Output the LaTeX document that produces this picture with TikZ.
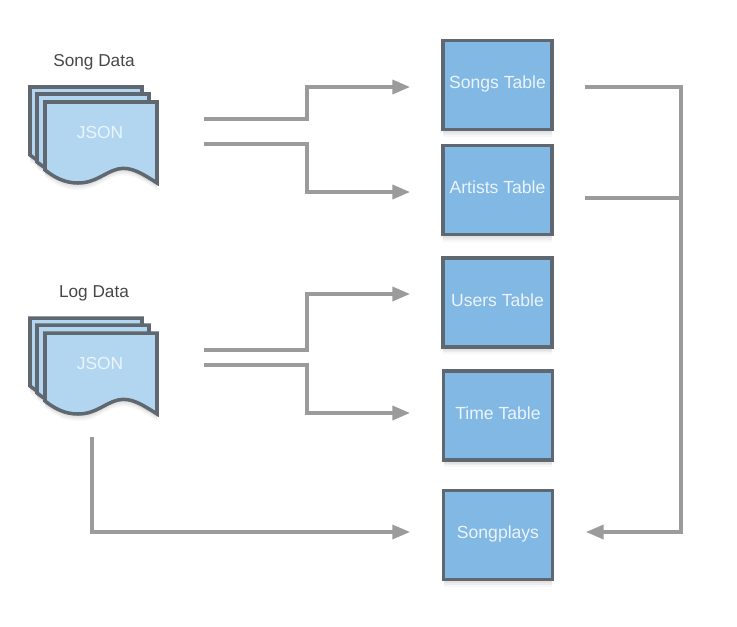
\documentclass[tikz,border=0pt]{standalone}
\usepackage{fontspec}
\setmainfont{Liberation Sans}
\usetikzlibrary{arrows.meta,shadows}
\definecolor{tablefill}{HTML}{82B8E4}
\definecolor{sheetfill}{HTML}{B3D6F0}
\definecolor{edgegray}{HTML}{5F6770}
\definecolor{flowgray}{HTML}{9B9B9B}
\definecolor{inktext}{HTML}{EAF4FC}
\tikzset{
    softshadow/.style={
        drop shadow={shadow xshift=0pt, shadow yshift=-1pt, opacity=.05, fill=black},
        drop shadow={shadow xshift=0pt, shadow yshift=-2pt, opacity=.05, fill=black},
        drop shadow={shadow xshift=0pt, shadow yshift=-3pt, opacity=.04, fill=black},
        drop shadow={shadow xshift=0pt, shadow yshift=-4pt, opacity=.03, fill=black}},
    tablebox/.style={rectangle, draw=edgegray, fill=tablefill, line width=1.9pt, minimum width=2.18cm, minimum height=1.78cm, inner sep=0pt, text=inktext, font=\fontsize{10}{11}\selectfont, softshadow},
    sheet/.style={draw=edgegray, fill=sheetfill, line width=2pt, line join=miter},
    stacklabel/.style={inner sep=0pt, text=inktext, font=\fontsize{9.9}{11}\selectfont},
    datalabel/.style={inner sep=0pt, text=black!72, font=\fontsize{9.8}{11}\selectfont},
    flow/.style={draw=flowgray, line width=1.8pt},
    flowarrow/.style={flow, -{Triangle[length=10pt, width=8pt]}},
    pics/jsonstack/.style={code={
        \foreach \off in {-15,-8,0} {
            \path[sheet, shift={(\off,\off)}, softshadow] (0,0) -- (112,0) -- (112,81) .. controls (98,72) and (86,64) .. (73,67) .. controls (60,70) and (51,81) .. (33,81) .. controls (19,81) and (9,75) .. (0,68) -- cycle;
        }
    }},
}
\begin{document}
\begin{tikzpicture}[x=0.02cm, y=-0.02cm]
    \useasboundingbox (0,0) rectangle (737,626);
    % source stacks
    \pic at (45,102) {jsonstack};
    \pic at (45,333) {jsonstack};
    \node[stacklabel] (songjson) at (100,133) {JSON};
    \node[stacklabel] (logjson) at (100,364) {JSON};
    \node[datalabel] (songdata) at (94,62) {Song Data};
    \node[datalabel] (logdata) at (94,293) {Log Data};
    % tables
    \node[tablebox] (songs) at (497.5,85) {\raisebox{3pt}{Songs Table}};
    \node[tablebox] (artists) at (497.5,190) {\raisebox{3pt}{Artists Table}};
    \node[tablebox] (users) at (497.5,302.5) {\raisebox{3pt}{Users Table}};
    \node[tablebox] (time) at (498,415.5) {\raisebox{3pt}{Time Table}};
    \node[tablebox] (songplays) at (498,535) {\raisebox{3pt}{Songplays}};
    % free ends of the connectors
    \coordinate (songout1) at (204,119);
    \coordinate (songout2) at (204,144);
    \coordinate (logout1) at (204,350);
    \coordinate (logout2) at (204,365);
    \coordinate (logout3) at (92,437);
    \coordinate (songsin) at (410,87);
    \coordinate (artistsin) at (410,192);
    \coordinate (usersin) at (410,294);
    \coordinate (timein) at (410,413);
    \coordinate (playsleft) at (410,532);
    \coordinate (playsright) at (586,532);
    \coordinate (songsout) at (585,87);
    \coordinate (artistsout) at (585,198);
    \coordinate (busjoin) at (681,198);
    % connectors
    \draw[flowarrow] (songout1) -- ++(103,0) |- (songsin);
    \draw[flowarrow] (songout2) -- ++(103,0) |- (artistsin);
    \draw[flowarrow] (logout1) -- ++(103,0) |- (usersin);
    \draw[flowarrow] (logout2) -- ++(103,0) |- (timein);
    \draw[flowarrow] (logout3) |- (playsleft);
    \draw[flowarrow] (songsout) -- ++(96,0) |- (playsright);
    \draw[flow] (artistsout) -- (busjoin);
\end{tikzpicture}
\end{document}
